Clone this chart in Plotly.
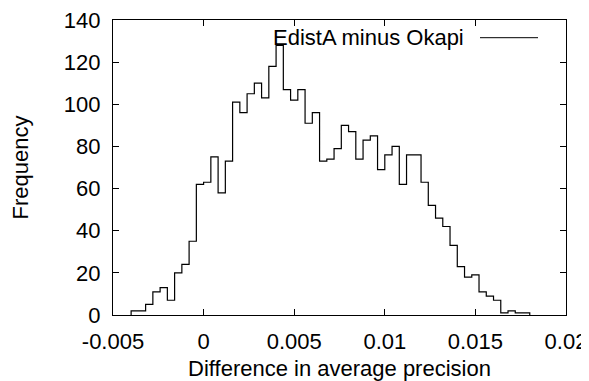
import numpy as np
import plotly.graph_objects as go

# ---- data ----
bin_start = -0.004
bin_width = 0.0004
counts = [2, 2, 5, 11, 13, 7, 20, 24, 35, 62,
          63, 75, 58, 73, 101, 96, 105, 110, 103, 118,
          128, 107, 102, 107, 91, 96, 73, 74, 79, 90,
          87, 74, 83, 85, 69, 76, 80, 62, 76, 76,
          63, 52, 46, 42, 33, 23, 18, 19, 11, 9,
          7, 1, 2, 1, 1]
series_name = "EdistA minus Okapi"
x_tick_vals = [-0.005, 0, 0.005, 0.01, 0.015, 0.02]
x_tick_text = ["-0.005", "0", "0.005", "0.01", "0.015", "0.02"]
y_tick_vals = [0, 20, 40, 60, 80, 100, 120, 140]
x_title = "Difference in average precision"
y_title = "Frequency"

edges = bin_start + bin_width * np.arange(len(counts) + 1)
xs = [edges[0]] + list(edges)
ys = [0] + list(counts) + [0]

FONT = "Liberation Sans, Arial, sans-serif"
FS = 22

fig = go.Figure()
fig.add_trace(go.Scatter(
    x=xs, y=ys, mode="lines", line=dict(shape="hv", color="#000000", width=1.2),
    name=series_name, showlegend=False, hoverinfo="skip"))

# page body has an 8px margin: figure is placed at (8, 8) in the window
W, H = 581, 373
L, R, T, B = 105, 23, 12, 66
pw, ph = W - L - R, H - T - B

axis_common = dict(
    showline=True, linecolor="#000000", linewidth=1.3, mirror="allticks",
    ticks="inside", ticklen=6, tickcolor="#000000", tickwidth=1,
    showgrid=False, zeroline=False, automargin=False,
    ticklabeloverflow="allow",
    tickfont=dict(family=FONT, size=FS, color="#000000"),
)

fig.update_xaxes(range=[-0.005, 0.02], tickvals=x_tick_vals, ticktext=x_tick_text,
                 ticklabelstandoff=6,
                 title=dict(text=x_title, font=dict(family=FONT, size=FS, color="#000000"), standoff=14),
                 **axis_common)
fig.update_yaxes(range=[0, 140], tickvals=y_tick_vals,
                 ticklabelstandoff=7,
                 title=dict(text=y_title, font=dict(family=FONT, size=FS, color="#000000"), standoff=32),
                 **axis_common)

# legend key in gnuplot style: text then line sample
ly = 1 - (37.7 - 20) / ph
fig.add_annotation(x=(466 - 113) / pw, y=ly, xref="paper", yref="paper",
                   text=series_name, showarrow=False, xanchor="right", yanchor="middle",
                   font=dict(family=FONT, size=FS, color="#000000"))
fig.add_shape(type="line", xref="paper", yref="paper",
              x0=(480 - 113) / pw, x1=(538 - 113) / pw, y0=ly, y1=ly,
              line=dict(color="#000000", width=1))

fig.update_layout(
    width=W, height=H, autosize=False,
    margin=dict(l=L, r=R, t=T, b=B, pad=0),
    paper_bgcolor="#ffffff", plot_bgcolor="#ffffff",
    font=dict(family=FONT, size=FS, color="#000000"),
)

fig.write_html("out.html")
